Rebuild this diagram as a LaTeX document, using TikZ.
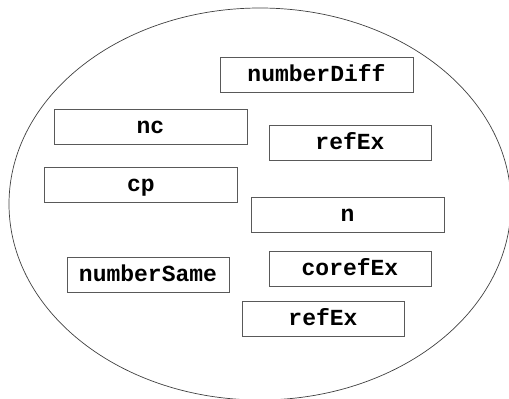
\documentclass[tikz,border=0pt]{standalone}
\usepackage{fontspec}
\setmonofont{Liberation Mono}
\begin{document}
\begin{tikzpicture}[x=1pt,y=-1pt,
  lbl/.style={draw=black!65, line width=0.9pt, fill=white, inner sep=0pt,
    text height=15pt, text depth=2pt,
    font=\ttfamily\bfseries\fontsize{23}{23}\selectfont},
  w193/.style={minimum width=193pt, minimum height=35pt},
  w162/.style={minimum width=162pt, minimum height=35pt}]
\useasboundingbox (0,0) rectangle (509,399);
\begin{scope}
\clip (0,0) rectangle (509,399);
\draw[black!75, line width=0.7pt] (260,204) ellipse [x radius=251, y radius=196];
\end{scope}
\node[lbl, w193] (numberDiff) at (316.5,75) {numberDiff};
\node[lbl, w193] (nc) at (150.5,126.5) {nc};
\node[lbl, w162] (refExTop) at (350,142.5) {refEx};
\node[lbl, w193] (cp) at (141,184.5) {cp};
\node[lbl, w193] (n) at (347.5,214.5) {n};
\node[lbl, w162] (numberSame) at (148,274.5) {numberSame};
\node[lbl, w162] (corefEx) at (350,268.5) {corefEx};
\node[lbl, w162] (refExBot) at (323,318.5) {refEx};
\end{tikzpicture}
\end{document}
